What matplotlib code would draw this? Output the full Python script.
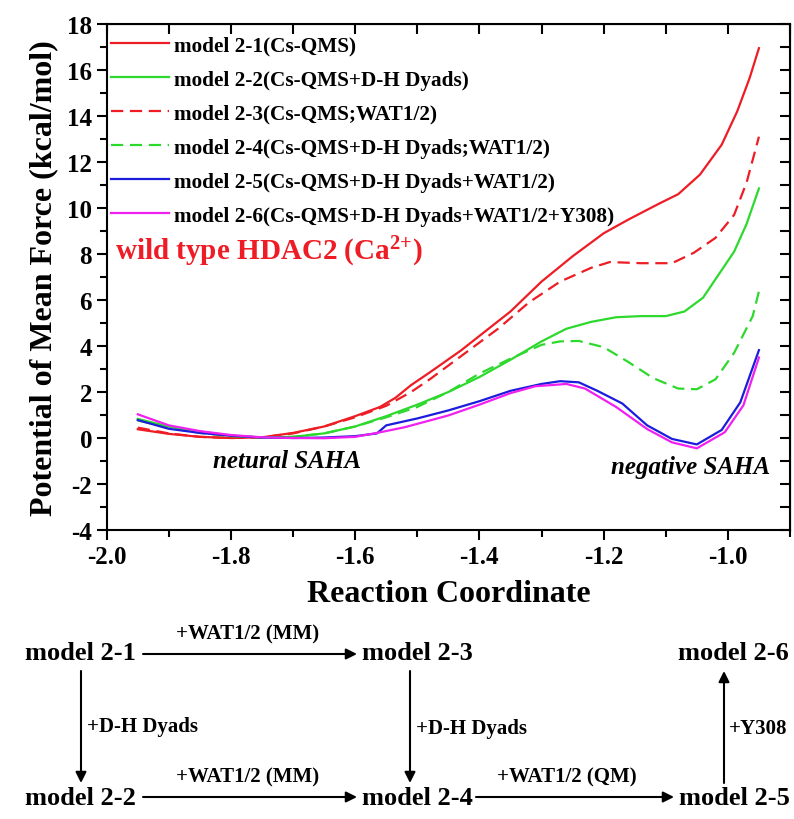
import matplotlib
matplotlib.use('Agg')
import matplotlib.pyplot as plt
from matplotlib.ticker import MultipleLocator, FormatStrFormatter

plt.rcParams['font.family'] = ['Liberation Serif', 'DejaVu Serif']
plt.rcParams['font.weight'] = 'bold'
plt.rcParams['mathtext.fontset'] = 'custom'
plt.rcParams['mathtext.rm'] = 'Liberation Serif:bold'
plt.rcParams['mathtext.default'] = 'rm'
plt.rcParams['axes.unicode_minus'] = False

# model 2-1 (Cs-QMS)
x21 = [-1.95, -1.90, -1.85, -1.80, -1.75, -1.70, -1.65, -1.60, -1.56, -1.535, -1.51, -1.48,
       -1.43, -1.39, -1.35, -1.30, -1.25, -1.20, -1.16, -1.11, -1.08, -1.045, -1.01, -0.985,
       -0.965, -0.95]
y21 = [0.38, 0.18, 0.05, 0.0, 0.03, 0.22, 0.5, 0.95, 1.35, 1.75, 2.3, 2.85,
       3.8, 4.65, 5.5, 6.8, 7.9, 8.9, 9.5, 10.2, 10.6, 11.45, 12.75, 14.2,
       15.65, 16.95]

# model 2-2 (Cs-QMS+D-H Dyads)
x22 = [-1.95, -1.90, -1.85, -1.80, -1.75, -1.70, -1.65, -1.60, -1.55, -1.50, -1.45, -1.40,
       -1.35, -1.30, -1.26, -1.22, -1.18, -1.14, -1.10, -1.07, -1.04, -1.02, -0.99, -0.97, -0.95]
y22 = [0.83, 0.5, 0.28, 0.1, 0.02, 0.05, 0.2, 0.5, 0.95, 1.45, 2.0, 2.65,
       3.4, 4.2, 4.75, 5.05, 5.25, 5.3, 5.3, 5.5, 6.1, 6.9, 8.1, 9.3, 10.85]

# model 2-3 (Cs-QMS;WAT1/2)
x23 = [-1.95, -1.90, -1.85, -1.80, -1.75, -1.70, -1.65, -1.60, -1.55, -1.51, -1.48, -1.43,
       -1.37, -1.32, -1.27, -1.22, -1.19, -1.14, -1.09, -1.055, -1.02, -0.99, -0.97, -0.95]
y23 = [0.45, 0.2, 0.05, 0.0, 0.03, 0.2, 0.5, 0.9, 1.4, 2.0, 2.55, 3.55,
       4.75, 5.9, 6.8, 7.4, 7.65, 7.6, 7.6, 8.05, 8.7, 9.7, 11.1, 13.1]

# model 2-4 (Cs-QMS+D-H Dyads;WAT1/2)
x24 = [-1.95, -1.90, -1.85, -1.80, -1.75, -1.70, -1.65, -1.60, -1.55, -1.50, -1.45, -1.40,
       -1.35, -1.30, -1.27, -1.24, -1.20, -1.16, -1.12, -1.08, -1.05, -1.02, -0.99, -0.96, -0.95]
y24 = [0.76, 0.45, 0.22, 0.08, 0.03, 0.05, 0.2, 0.5, 0.9, 1.35, 2.0, 2.8,
       3.45, 4.05, 4.2, 4.22, 3.95, 3.3, 2.6, 2.15, 2.12, 2.55, 3.7, 5.3, 6.38]

# model 2-5 (Cs-QMS+D-H Dyads+WAT1/2)
x25 = [-1.95, -1.90, -1.85, -1.80, -1.75, -1.70, -1.65, -1.60, -1.565, -1.55, -1.50, -1.45,
       -1.40, -1.35, -1.30, -1.27, -1.24, -1.21, -1.17, -1.13, -1.09, -1.05, -1.01, -0.98, -0.95]
y25 = [0.78, 0.4, 0.22, 0.1, 0.02, 0.0, 0.02, 0.08, 0.2, 0.55, 0.85, 1.2,
       1.6, 2.05, 2.35, 2.47, 2.42, 2.05, 1.5, 0.55, -0.04, -0.28, 0.35, 1.55, 3.82]

# model 2-6 (Cs-QMS+D-H Dyads+WAT1/2+Y308)
x26 = [-1.95, -1.90, -1.85, -1.80, -1.75, -1.70, -1.65, -1.60, -1.565, -1.52, -1.45, -1.40,
       -1.35, -1.31, -1.26, -1.23, -1.18, -1.13, -1.09, -1.05, -1.005, -0.975, -0.95]
y26 = [1.03, 0.55, 0.3, 0.13, 0.03, 0.0, -0.01, 0.05, 0.22, 0.47, 0.98, 1.45,
       1.95, 2.25, 2.35, 2.15, 1.35, 0.39, -0.19, -0.45, 0.25, 1.42, 3.5]

labels = ['model 2-1(Cs-QMS)', 'model 2-2(Cs-QMS+D-H Dyads)', 'model 2-3(Cs-QMS;WAT1/2)',
          'model 2-4(Cs-QMS+D-H Dyads;WAT1/2)', 'model 2-5(Cs-QMS+D-H Dyads+WAT1/2)',
          'model 2-6(Cs-QMS+D-H Dyads+WAT1/2+Y308)']

red = '#ee1c24'
green = '#2ed92e'
blue = '#1c1cdc'
magenta = '#f020f0'

W, H = 794, 820
fig = plt.figure(figsize=(W / 100, H / 100), dpi=100)
ax = fig.add_axes([106.7 / W, 1 - 531 / H, (790 - 106.7) / W, (531 - 25) / H])

lw = 1.6
ax.plot(x21, y21, color=red, lw=lw, label=labels[0])
ax.plot(x22, y22, color=green, lw=lw, label=labels[1])
ax.plot(x23, y23, color=red, lw=lw, dashes=[5.5, 3], label=labels[2])
ax.plot(x24, y24, color=green, lw=lw, dashes=[5.5, 3], label=labels[3])
ax.plot(x25, y25, color=blue, lw=lw, label=labels[4])
ax.plot(x26, y26, color=magenta, lw=lw, label=labels[5])

ax.set_xlim(-2.0, -0.9)
ax.set_ylim(-4, 18)
ax.xaxis.set_major_locator(MultipleLocator(0.2))
ax.xaxis.set_minor_locator(MultipleLocator(0.1))
ax.xaxis.set_major_formatter(FormatStrFormatter('%.1f'))
ax.yaxis.set_major_locator(MultipleLocator(2))
ax.yaxis.set_minor_locator(MultipleLocator(1))
ax.tick_params(which='both', direction='out', width=1.5, labelsize=18)
ax.tick_params(which='major', length=7)
ax.tick_params(which='minor', length=5)
for lab in ax.get_xticklabels() + ax.get_yticklabels():
    lab.set_fontweight('bold')
for sp in ax.spines.values():
    sp.set_linewidth(1.5)

# mirrored ticks on top and right, pointing inward
top = ax.secondary_xaxis('top')
top.xaxis.set_major_locator(MultipleLocator(0.2))
top.xaxis.set_minor_locator(MultipleLocator(0.1))
top.tick_params(which='both', direction='in', width=1.5, labeltop=False, length=7)
right = ax.secondary_yaxis('right')
right.yaxis.set_major_locator(MultipleLocator(2))
right.yaxis.set_minor_locator(MultipleLocator(1))
right.tick_params(which='both', direction='in', width=1.5, labelright=False, length=7)

ax.set_xlabel('Reaction Coordinate', fontsize=23, fontweight='bold', labelpad=8)
ax.set_ylabel('Potential of Mean Force (kcal/mol)', fontsize=23, fontweight='bold', labelpad=6)

leg = ax.legend(loc='upper left', bbox_to_anchor=(-0.011, 1.0), frameon=False,
                prop={'size': 15.3, 'weight': 'bold'}, handlelength=2.75,
                handletextpad=0.2, labelspacing=0.66, borderaxespad=0.35, borderpad=0.2)

ax.text(0.012, 0.552, r'wild type HDAC2 (Ca$^{2{+}}$)', transform=ax.transAxes,
        color=red, fontsize=21, fontweight='bold', va='center', ha='left')
ax.text(-1.71, -1.0, 'netural SAHA', fontsize=18, fontweight='bold', style='italic',
        ha='center', va='center')
ax.text(-1.06, -1.25, 'negative SAHA', fontsize=18, fontweight='bold', style='italic',
        ha='center', va='center')

# scheme below the chart (pixel positions measured from top-left)
def fx(px):
    return px / W

def fy(py):
    return 1 - py / H

models = [('model 2-1', 25, 654), ('model 2-3', 362, 654), ('model 2-6', 678, 654),
          ('model 2-2', 25, 799), ('model 2-4', 362, 799), ('model 2-5', 679, 799)]
for name, px, py in models:
    fig.text(fx(px), fy(py), name, fontsize=19, fontweight='bold', ha='left', va='center')

arrows = [((143, 655), (357, 655)), ((143, 798), (357, 798)), ((476, 798), (674, 798)),
          ((81, 672), (81, 784)), ((410, 672), (410, 784)), ((724, 784), (724, 672))]
for (x0, y0), (x1, y1) in arrows:
    ax.annotate('', xy=(fx(x1), fy(y1)), xytext=(fx(x0), fy(y0)), xycoords='figure fraction',
                textcoords='figure fraction', annotation_clip=False,
                arrowprops=dict(arrowstyle='-|>', lw=1.5, color='black', mutation_scale=16,
                                shrinkA=0, shrinkB=0))

steps = [('+WAT1/2 (MM)', 248, 634, 'center'), ('+WAT1/2 (MM)', 248, 777, 'center'),
         ('+WAT1/2 (QM)', 567, 777, 'center'), ('+D-H Dyads', 87, 727, 'left'),
         ('+D-H Dyads', 416, 729, 'left'), ('+Y308', 729, 729, 'left')]
for txt, px, py, ha in steps:
    fig.text(fx(px), fy(py), txt, fontsize=15, fontweight='bold', ha=ha, va='center')

fig.savefig('out.png', dpi=100)
